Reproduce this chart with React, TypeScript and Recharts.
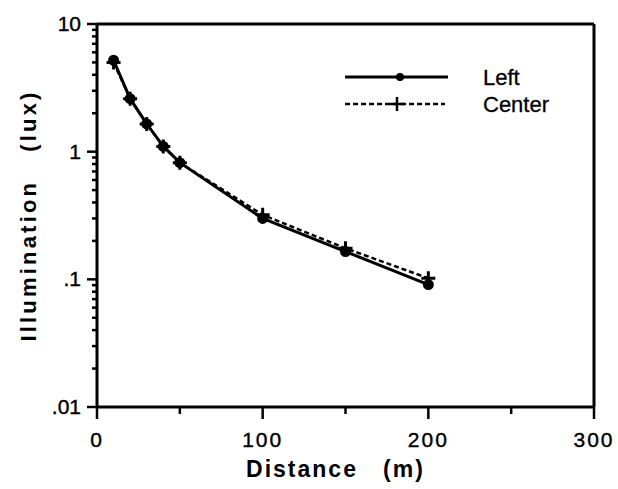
import React from 'react';
import { LineChart, Line, XAxis, YAxis, ReferenceLine } from 'recharts';

const distances = [10, 20, 30, 40, 50, 100, 150, 200];
const leftLux = [5.2, 2.6, 1.65, 1.1, 0.82, 0.3, 0.165, 0.091];
const centerLux = [5.0, 2.6, 1.65, 1.1, 0.82, 0.32, 0.175, 0.102];

const xTicks = [0, 50, 100, 150, 200, 250, 300];
const xMajor = [0, 100, 200, 300];
const yMajor = [0.01, 0.1, 1, 10];
const yMajorLabels = ['.01', '.1', '1', '10'];
const yMinor = [
  0.02, 0.03, 0.04, 0.05, 0.06, 0.07, 0.08, 0.09,
  0.2, 0.3, 0.4, 0.5, 0.6, 0.7, 0.8, 0.9,
  2, 3, 4, 5, 6, 7, 8, 9,
];

const data = distances.map((d, i) => ({ d, left: leftLux[i], center: centerLux[i] }));

const FONT = '"Liberation Sans", Arial, Helvetica, sans-serif';

const YTick = (props: any) => {
  const { x, y, payload } = props;
  const idx = yMajor.indexOf(payload.value);
  const major = idx >= 0;
  return (
    <g>
      <line x1={x - (major ? 10 : 5)} x2={x} y1={y} y2={y} stroke="#000" strokeWidth={2.5} />
      {major && (
        <text x={x - 16} y={y + 7} textAnchor="end" fontFamily={FONT} fontSize={21} fill="#000" stroke="#000" strokeWidth={0.4}>
          {yMajorLabels[idx]}
        </text>
      )}
    </g>
  );
};

const XTick = (props: any) => {
  const { x, y, payload } = props;
  const major = xMajor.includes(payload.value);
  return (
    <g>
      <line x1={x} x2={x} y1={y} y2={y + (major ? 12 : 7)} stroke="#000" strokeWidth={2.5} />
      {major && (
        <text x={x} y={y + 40} textAnchor="middle" fontFamily={FONT} fontSize={21} letterSpacing={2} fill="#000" stroke="#000" strokeWidth={0.4}>
          {payload.value}
        </text>
      )}
    </g>
  );
};

const XTitle = (props: any) => {
  const vb = props.viewBox;
  return (
    <text x={vb.x + vb.width / 2 - 10} y={477} textAnchor="middle" fontFamily={FONT} fontWeight="bold" fontSize={23} letterSpacing={2} fill="#000">
      {'Distance\u00a0\u00a0\u00a0(m)'}
    </text>
  );
};

const YTitle = (props: any) => {
  const vb = props.viewBox;
  const cy = vb.y + vb.height / 2;
  return (
    <text x={36} y={cy} transform={`rotate(-90 36 ${cy})`} textAnchor="middle" fontFamily={FONT} fontWeight="bold" fontSize={22} letterSpacing={3.2} fill="#000">
      {'Illumination\u00a0\u00a0\u00a0(lux)'}
    </text>
  );
};

const PlusDot = (props: any) => {
  const { cx, cy } = props;
  if (cx == null || cy == null) return null;
  return (
    <g>
      <line x1={cx - 7} x2={cx + 7} y1={cy} y2={cy} stroke="#000" strokeWidth={3} />
      <line x1={cx} x2={cx} y1={cy - 7} y2={cy + 7} stroke="#000" strokeWidth={3} />
    </g>
  );
};

const LegendBox = () => (
  <svg width={270} height={60} style={{ position: 'absolute', left: 340, top: 60 }}>
    <line x1={5} x2={108} y1={17} y2={17} stroke="#000" strokeWidth={3} />
    <circle cx={60} cy={17} r={4} fill="#000" />
    <text x={143} y={25} fontFamily={FONT} fontSize={22} fill="#000" stroke="#000" strokeWidth={0.3}>Left</text>
    <line x1={5} x2={105} y1={44} y2={44} stroke="#000" strokeWidth={2.5} strokeDasharray="5 3" />
    <line x1={50} x2={64} y1={44} y2={44} stroke="#000" strokeWidth={2.5} />
    <line x1={57} x2={57} y1={37} y2={51} stroke="#000" strokeWidth={2.5} />
    <text x={143} y={52} fontFamily={FONT} fontSize={22} fill="#000" stroke="#000" strokeWidth={0.3}>Center</text>
  </svg>
);

export default function App() {
  return (
    <div style={{ position: 'absolute', left: 0, top: 0, width: 618, height: 489, background: '#fff' }}>
      <LineChart width={618} height={489} data={data} margin={{ top: 24, right: 24, bottom: 0, left: 0 }}>
        <XAxis
          dataKey="d"
          type="number"
          domain={[0, 300]}
          ticks={xTicks}
          tick={<XTick />}
          tickLine={false}
          tickSize={0}
          tickMargin={0}
          height={82}
          axisLine={{ stroke: '#000', strokeWidth: 3 }}
          label={<XTitle />}
        />
        <YAxis
          type="number"
          scale="log"
          domain={[0.01, 10]}
          allowDataOverflow
          ticks={[...yMajor, ...yMinor]}
          tick={<YTick />}
          tickLine={false}
          tickSize={0}
          tickMargin={0}
          width={97}
          interval={0}
          axisLine={{ stroke: '#000', strokeWidth: 3 }}
          label={<YTitle />}
        />
        <ReferenceLine y={10} stroke="#000" strokeWidth={3} />
        <ReferenceLine x={300} stroke="#000" strokeWidth={3} />
        <Line
          dataKey="left"
          stroke="#000"
          strokeWidth={3}
          dot={{ r: 4, fill: '#000', stroke: '#000' }}
          isAnimationActive={false}
        />
        <Line
          dataKey="center"
          stroke="#000"
          strokeWidth={2.5}
          strokeDasharray="5 3"
          dot={<PlusDot />}
          isAnimationActive={false}
        />
      </LineChart>
      <LegendBox />
    </div>
  );
}
